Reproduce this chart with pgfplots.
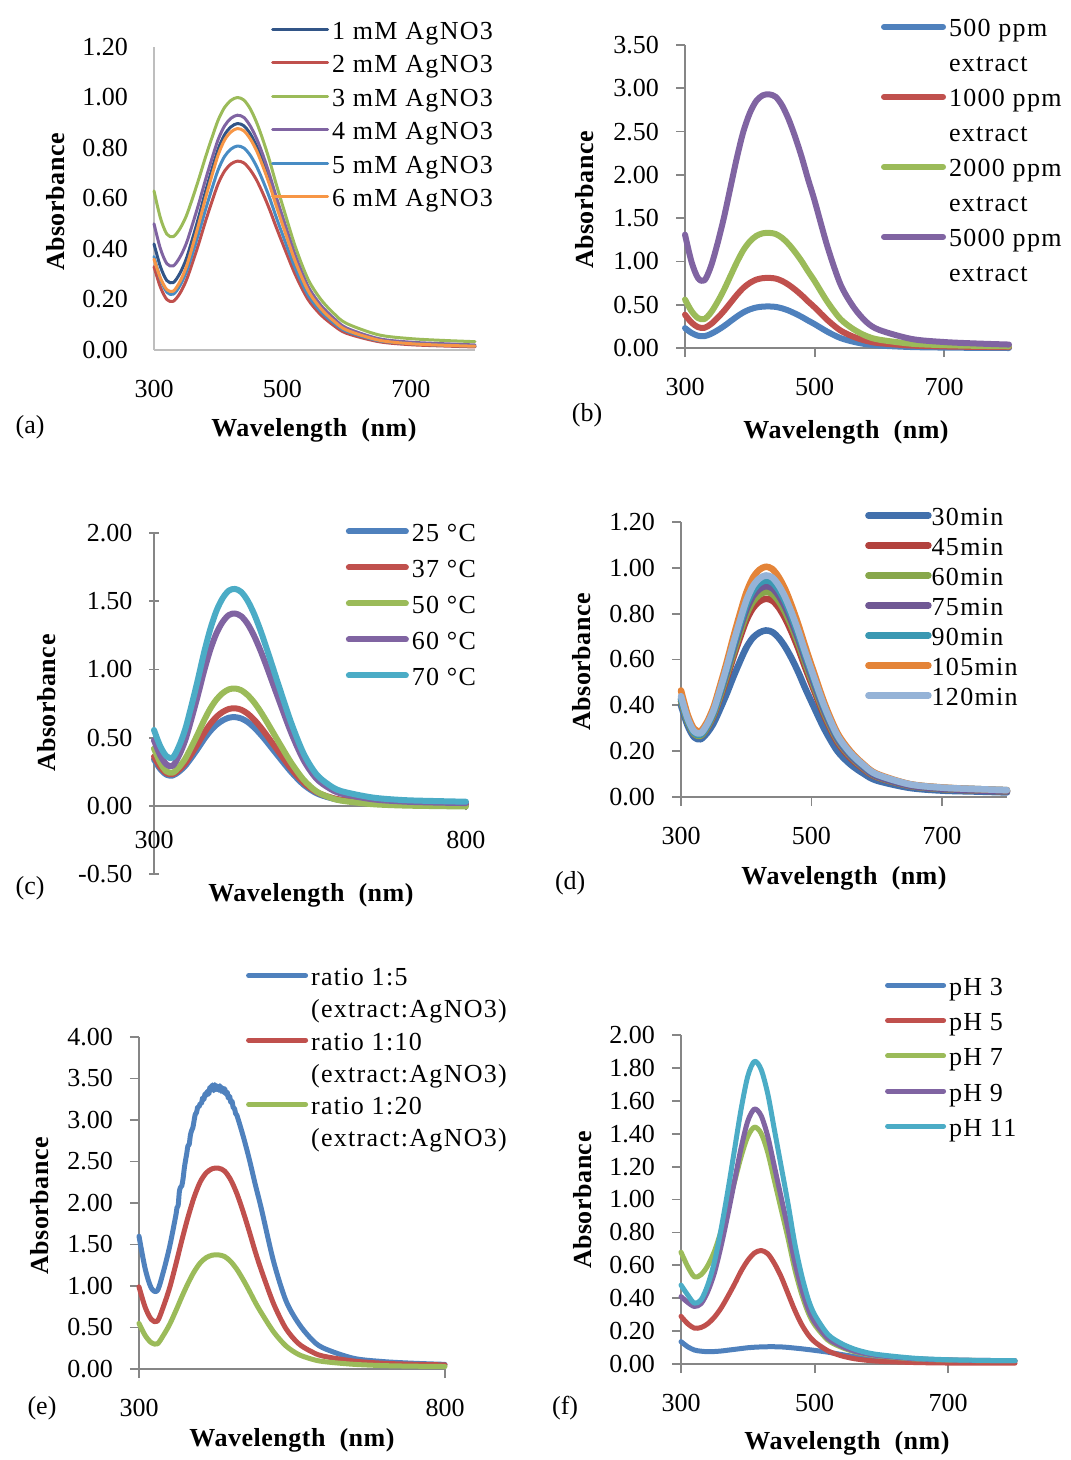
\documentclass[border=0pt]{standalone}
\usepackage{fontspec}
\setmainfont{Liberation Serif}
\newfontfamily\legfont{Liberation Serif}[LetterSpace=5]
\newfontfamily\labfont{Liberation Serif}[LetterSpace=2]
\usepackage{pgfplots}
\usepackage{pgfplotstable}
\pgfplotsset{compat=1.18}

\definecolor{xblue}{RGB}{79,129,189}
\definecolor{xred}{RGB}{192,80,77}
\definecolor{xgreen}{RGB}{155,187,89}
\definecolor{xpurple}{RGB}{128,100,162}
\definecolor{xcyan}{RGB}{75,172,198}
\definecolor{xorange}{RGB}{247,150,70}
\definecolor{xnavy}{RGB}{50,85,135}
\definecolor{xmblue}{RGB}{72,140,196}
\definecolor{xlblue}{RGB}{149,179,215}
\definecolor{dblue}{RGB}{66,112,172}
\definecolor{dred}{RGB}{178,66,62}
\definecolor{dgreen}{RGB}{135,167,75}
\definecolor{dpurple}{RGB}{112,88,148}
\definecolor{dteal}{RGB}{58,152,178}
\definecolor{dorange}{RGB}{228,132,56}
\definecolor{axgray}{RGB}{134,134,134}
\definecolor{axlight}{RGB}{190,190,190}

\pgfplotstableread{
x m1 m2 m3 m4 m5 m6
300 0.420 0.330 0.630 0.500 0.370 0.360
310 0.330 0.249 0.523 0.401 0.282 0.285
320 0.275 0.200 0.459 0.342 0.229 0.239
330 0.267 0.193 0.449 0.333 0.221 0.233
340 0.302 0.223 0.479 0.366 0.253 0.269
350 0.359 0.274 0.529 0.420 0.307 0.327
360 0.441 0.346 0.601 0.498 0.383 0.411
370 0.530 0.424 0.679 0.582 0.466 0.502
380 0.625 0.508 0.762 0.672 0.554 0.599
390 0.713 0.586 0.839 0.756 0.637 0.689
400 0.796 0.659 0.911 0.834 0.714 0.773
410 0.853 0.709 0.961 0.888 0.767 0.832
420 0.884 0.737 0.989 0.918 0.796 0.864
430 0.897 0.748 1.000 0.930 0.808 0.877
440 0.888 0.741 0.990 0.921 0.800 0.868
450 0.856 0.713 0.955 0.887 0.771 0.836
460 0.806 0.672 0.900 0.836 0.726 0.788
470 0.742 0.618 0.830 0.770 0.668 0.725
480 0.669 0.557 0.750 0.694 0.603 0.654
490 0.587 0.489 0.660 0.610 0.529 0.574
500 0.509 0.424 0.575 0.530 0.459 0.498
520 0.359 0.299 0.410 0.375 0.324 0.351
540 0.240 0.200 0.280 0.252 0.217 0.235
560 0.168 0.139 0.200 0.177 0.152 0.164
580 0.117 0.097 0.145 0.126 0.107 0.115
600 0.080 0.066 0.105 0.087 0.074 0.079
650 0.040 0.033 0.060 0.045 0.037 0.039
700 0.026 0.021 0.045 0.031 0.025 0.025
750 0.019 0.016 0.038 0.025 0.019 0.019
800 0.015 0.012 0.033 0.020 0.015 0.015
}\tabA

\pgfplotstableread{
x p500 p1000 p2000 p5000
300 0.230 0.385 0.560 1.310
310 0.175 0.295 0.427 0.997
320 0.142 0.241 0.346 0.808
330 0.137 0.233 0.335 0.781
340 0.163 0.276 0.410 0.943
350 0.204 0.346 0.530 1.202
360 0.252 0.427 0.670 1.504
370 0.308 0.520 0.830 1.850
380 0.363 0.613 0.990 2.196
390 0.411 0.694 1.130 2.498
400 0.446 0.752 1.230 2.714
410 0.468 0.790 1.295 2.854
420 0.478 0.807 1.325 2.919
430 0.480 0.810 1.330 2.930
440 0.475 0.802 1.317 2.901
450 0.458 0.774 1.271 2.800
460 0.432 0.730 1.199 2.641
470 0.398 0.674 1.107 2.439
480 0.360 0.610 1.003 2.208
490 0.317 0.538 0.885 1.947
500 0.276 0.470 0.773 1.702
520 0.187 0.322 0.531 1.167
540 0.115 0.202 0.334 0.734
560 0.072 0.130 0.217 0.474
580 0.043 0.082 0.138 0.300
600 0.028 0.056 0.096 0.208
650 0.011 0.028 0.049 0.104
700 0.005 0.018 0.033 0.069
750 0.002 0.013 0.025 0.052
800 0.000 0.010 0.020 0.040
}\tabB

\pgfplotstableread{
x c25 c37 c50 c60 c70
300 0.340 0.360 0.420 0.480 0.556
310 0.270 0.285 0.316 0.370 0.437
320 0.228 0.239 0.253 0.303 0.364
330 0.222 0.232 0.243 0.293 0.353
340 0.250 0.264 0.283 0.368 0.437
350 0.293 0.312 0.345 0.480 0.561
360 0.353 0.380 0.432 0.637 0.734
370 0.418 0.453 0.525 0.805 0.920
380 0.487 0.531 0.624 0.984 1.119
390 0.547 0.599 0.711 1.141 1.292
400 0.594 0.652 0.779 1.264 1.429
410 0.626 0.688 0.826 1.348 1.522
420 0.646 0.710 0.854 1.399 1.578
430 0.650 0.715 0.860 1.410 1.590
440 0.640 0.704 0.847 1.389 1.567
450 0.615 0.676 0.812 1.334 1.504
460 0.576 0.634 0.761 1.250 1.411
470 0.528 0.581 0.696 1.146 1.294
480 0.474 0.521 0.622 1.028 1.161
490 0.416 0.458 0.544 0.903 1.021
500 0.359 0.394 0.466 0.778 0.880
520 0.247 0.271 0.315 0.534 0.607
540 0.154 0.169 0.190 0.333 0.381
560 0.093 0.102 0.107 0.201 0.233
580 0.061 0.066 0.064 0.131 0.155
600 0.042 0.045 0.038 0.090 0.108
650 0.023 0.024 0.012 0.048 0.061
700 0.015 0.015 0.002 0.031 0.042
750 0.012 0.012 -0.002 0.024 0.035
800 0.010 0.010 -0.005 0.020 0.030
}\tabC

\pgfplotstableread{
x t30 t45 t60 t75 t90 t105 t120
300 0.400 0.420 0.420 0.430 0.430 0.465 0.440
310 0.313 0.330 0.330 0.337 0.337 0.361 0.344
320 0.261 0.276 0.276 0.281 0.281 0.298 0.287
330 0.252 0.267 0.267 0.272 0.272 0.288 0.278
340 0.279 0.301 0.303 0.309 0.311 0.328 0.317
350 0.322 0.355 0.360 0.368 0.371 0.393 0.379
360 0.384 0.433 0.441 0.452 0.459 0.487 0.469
370 0.450 0.517 0.530 0.543 0.554 0.587 0.566
380 0.522 0.607 0.624 0.641 0.655 0.695 0.669
390 0.589 0.691 0.712 0.732 0.749 0.796 0.766
400 0.651 0.769 0.794 0.816 0.837 0.890 0.856
410 0.694 0.823 0.851 0.875 0.898 0.955 0.919
420 0.717 0.853 0.882 0.907 0.932 0.991 0.953
430 0.727 0.865 0.895 0.920 0.945 1.005 0.967
440 0.720 0.857 0.886 0.911 0.936 0.995 0.958
450 0.694 0.826 0.854 0.878 0.902 0.959 0.923
460 0.654 0.778 0.805 0.828 0.851 0.905 0.870
470 0.603 0.717 0.742 0.762 0.784 0.833 0.802
480 0.544 0.647 0.670 0.688 0.708 0.752 0.724
490 0.478 0.569 0.589 0.605 0.623 0.662 0.637
500 0.416 0.495 0.512 0.526 0.542 0.576 0.555
520 0.296 0.353 0.364 0.374 0.387 0.410 0.395
540 0.200 0.239 0.247 0.253 0.263 0.279 0.269
560 0.142 0.170 0.176 0.180 0.188 0.199 0.192
580 0.102 0.122 0.126 0.129 0.136 0.143 0.139
600 0.072 0.087 0.089 0.091 0.098 0.102 0.099
650 0.040 0.049 0.049 0.050 0.056 0.057 0.056
700 0.028 0.035 0.035 0.036 0.041 0.042 0.041
750 0.024 0.029 0.029 0.029 0.035 0.035 0.035
800 0.020 0.025 0.025 0.025 0.030 0.030 0.030
}\tabD

\pgfplotstableread{
x r10 r20
300 0.990 0.550
310 0.746 0.405
320 0.599 0.318
330 0.576 0.303
340 0.755 0.408
350 0.977 0.537
360 1.255 0.698
370 1.551 0.870
380 1.828 1.031
390 2.069 1.171
400 2.254 1.278
410 2.365 1.343
420 2.414 1.372
430 2.420 1.375
440 2.384 1.355
450 2.278 1.294
460 2.112 1.200
470 1.899 1.079
480 1.662 0.945
490 1.413 0.803
500 1.188 0.676
520 0.785 0.447
540 0.488 0.279
560 0.311 0.178
580 0.216 0.124
600 0.157 0.091
650 0.097 0.057
700 0.069 0.041
750 0.057 0.034
800 0.050 0.030
}\tabE

\pgfplotstableread{
x r5
300 1.600
310 1.211
320 0.977
330 0.945
340 1.177
350 1.473
360 1.844
362 1.943
364 1.972
366 2.141
368 2.190
370 2.209
372 2.293
374 2.417
376 2.512
378 2.596
380 2.690
382 2.704
384 2.818
386 2.873
388 2.907
390 2.991
392 3.070
394 3.090
396 3.159
398 3.159
400 3.198
402 3.198
404 3.267
406 3.247
408 3.316
410 3.296
412 3.349
414 3.313
416 3.396
418 3.360
420 3.423
422 3.354
424 3.426
426 3.367
428 3.409
430 3.360
432 3.413
434 3.347
436 3.390
438 3.334
440 3.377
442 3.312
444 3.337
446 3.263
448 3.288
450 3.213
452 3.226
454 3.148
456 3.141
458 3.073
460 3.056
470 2.811
480 2.534
490 2.223
500 1.929
520 1.293
540 0.825
560 0.558
580 0.374
600 0.257
650 0.130
700 0.089
750 0.069
800 0.056
}\tabEb

\pgfplotstableread{
x h3 h5 h7 h9 h11
300 0.136 0.290 0.680 0.410 0.480
310 0.105 0.245 0.593 0.375 0.420
320 0.085 0.218 0.530 0.350 0.370
330 0.078 0.222 0.543 0.367 0.390
340 0.075 0.245 0.598 0.440 0.480
350 0.076 0.285 0.685 0.554 0.620
360 0.079 0.340 0.808 0.717 0.820
370 0.084 0.410 0.951 0.906 1.050
380 0.089 0.485 1.106 1.110 1.300
390 0.094 0.565 1.261 1.314 1.550
400 0.099 0.630 1.384 1.477 1.750
410 0.102 0.675 1.440 1.550 1.840
420 0.104 0.690 1.402 1.509 1.790
430 0.105 0.670 1.284 1.382 1.640
440 0.105 0.610 1.112 1.197 1.420
450 0.104 0.530 0.940 1.011 1.200
460 0.101 0.430 0.768 0.826 0.980
470 0.097 0.330 0.582 0.626 0.740
480 0.093 0.245 0.433 0.465 0.550
490 0.088 0.180 0.317 0.340 0.400
500 0.083 0.135 0.239 0.256 0.300
520 0.072 0.080 0.145 0.155 0.180
540 0.058 0.050 0.102 0.109 0.125
560 0.045 0.032 0.074 0.078 0.090
580 0.035 0.022 0.057 0.060 0.068
600 0.028 0.016 0.047 0.049 0.055
650 0.021 0.009 0.031 0.032 0.035
700 0.018 0.006 0.024 0.025 0.026
750 0.017 0.005 0.021 0.022 0.022
800 0.016 0.005 0.020 0.020 0.020
}\tabF

\newcommand{\fs}{\fontsize{26pt}{30pt}\selectfont}

\pgfplotsset{
  legline/.style={legend image code/.code={\draw[##1] (0pt,4pt) -- (#1,4pt);}},
  panel/.style={
    scale only axis, clip=false,
    xmin=300, xmax=800,
    axis x line*=bottom, axis y line*=left,
    axis line style={draw=axgray, line width=1.8pt, -},
    tick style={draw=axgray, line width=1.8pt},
    tick align=outside, major tick length=9pt, minor tick num=0,
    xtick={300,500,700}, xticklabels={300,500,700},
    tick label style={font=\fs, inner sep=0pt},
    xticklabel style={anchor=center, yshift=-30pt},
    yticklabel style={anchor=east, xshift=-17pt},
    label style={font=\labfont\fs\bfseries},
    ylabel={Absorbance},
    xlabel={Wavelength\ \ (nm)},
    legend cell align=left,
    legline=57pt,
    legend style={draw=none, fill=none, inner sep=0pt, outer sep=0pt, font=\legfont\fs,
      anchor=north west,
      nodes={inner sep=0pt, text height=18pt, text depth=6pt},
      /tikz/every odd column/.append style={column sep=3pt}},
    every axis plot/.append style={smooth, no marks, line cap=round, line join=round},
  },
}

\begin{document}
\begin{tikzpicture}
\path[use as bounding box] (0pt,0pt) rectangle (1071pt,-1460pt);

% ---------------- (a)
\begin{axis}[panel, at={(154pt,-350pt)}, anchor=south west, width=321pt, height=303pt,
  ymin=0, ymax=1.2, ytick={0,0.2,0.4,0.6,0.8,1.0,1.2},
  yticklabels={0.00,0.20,0.40,0.60,0.80,1.00,1.20},
  axis line style={draw=axlight, line width=1.6pt}, tick style={draw=none},
  ylabel style={at={(axis description cs:-0.308,0.488)}, anchor=center},
  xlabel style={at={(axis description cs:0.498,-0.264)}, anchor=center},
  legline=55pt,
  legend style={at={(axis description cs:0.365,1.085)}, row sep=9.5pt},
]
\addplot[xnavy, line width=3pt] table[x=x,y=m1]{\tabA}; \addlegendentry{1 mM AgNO3}
\addplot[xred, line width=3pt] table[x=x,y=m2]{\tabA}; \addlegendentry{2 mM AgNO3}
\addplot[xgreen, line width=3pt] table[x=x,y=m3]{\tabA}; \addlegendentry{3 mM AgNO3}
\addplot[xpurple, line width=3pt] table[x=x,y=m4]{\tabA}; \addlegendentry{4 mM AgNO3}
\addplot[xmblue, line width=3pt] table[x=x,y=m5]{\tabA}; \addlegendentry{5 mM AgNO3}
\addplot[xorange, line width=3pt] table[x=x,y=m6]{\tabA}; \addlegendentry{6 mM AgNO3}
\node[font=\fs] at (axis description cs:-0.386,-0.254) {(a)};
\end{axis}

% ---------------- (b)
\begin{axis}[panel, at={(685pt,-348pt)}, anchor=south west, width=324pt, height=303pt,
  ymin=0, ymax=3.5, ytick={0,0.5,1.0,1.5,2.0,2.5,3.0,3.5},
  yticklabels={0.00,0.50,1.00,1.50,2.00,2.50,3.00,3.50},
  ylabel style={at={(axis description cs:-0.309,0.488)}, anchor=center},
  xlabel style={at={(axis description cs:0.497,-0.277)}, anchor=center},
  legline=59pt,
  legend style={at={(axis description cs:0.605,1.086)}, row sep=11pt},
]
\addplot[xblue, line width=6pt] table[x=x,y=p500]{\tabB}; \addlegendentry{500 ppm}
\addlegendimage{empty legend} \addlegendentry{extract}
\addplot[xred, line width=6pt] table[x=x,y=p1000]{\tabB}; \addlegendentry{1000 ppm}
\addlegendimage{empty legend} \addlegendentry{extract}
\addplot[xgreen, line width=6pt] table[x=x,y=p2000]{\tabB}; \addlegendentry{2000 ppm}
\addlegendimage{empty legend} \addlegendentry{extract}
\addplot[xpurple, line width=6pt] table[x=x,y=p5000]{\tabB}; \addlegendentry{5000 ppm}
\addlegendimage{empty legend} \addlegendentry{extract}
\node[font=\fs] at (axis description cs:-0.302,-0.221) {(b)};
\end{axis}

% ---------------- (c)
\begin{axis}[panel, at={(154pt,-874pt)}, anchor=south west, width=312pt, height=341pt,
  axis x line=middle, axis y line=left, hide obscured x ticks=false,
  axis line style={-}, every inner x axis line/.append style={-}, every outer y axis line/.append style={-},
  ymin=-0.5, ymax=2, ytick={-0.5,0,0.5,1.0,1.5,2.0},
  yticklabels={-0.50,0.00,0.50,1.00,1.50,2.00},
  xtick={300,800}, xticklabels={300,800},
  ylabel style={at={(axis description cs:-0.343,0.501)}, anchor=center, font=\labfont\fs\bfseries},
  xlabel style={at={(axis description cs:0.503,-0.062)}, anchor=center, font=\labfont\fs\bfseries},
  legline=57pt,
  legend style={at={(axis description cs:0.615,1.028)}, row sep=12pt},
]
\addplot[xblue, line width=6pt] table[x=x,y=c25]{\tabC}; \addlegendentry{25 °C}
\addplot[xred, line width=6pt] table[x=x,y=c37]{\tabC}; \addlegendentry{37 °C}
\addplot[xgreen, line width=6pt] table[x=x,y=c50]{\tabC}; \addlegendentry{50 °C}
\addplot[xpurple, line width=6pt] table[x=x,y=c60]{\tabC}; \addlegendentry{60 °C}
\addplot[xcyan, line width=6pt] table[x=x,y=c70]{\tabC}; \addlegendentry{70 °C}
\node[font=\fs] at (axis description cs:-0.397,-0.041) {(c)};
\end{axis}

% ---------------- (d)
\begin{axis}[panel, at={(681pt,-797pt)}, anchor=south west, width=326pt, height=275pt,
  ymin=0, ymax=1.2, ytick={0,0.2,0.4,0.6,0.8,1.0,1.2},
  yticklabels={0.00,0.20,0.40,0.60,0.80,1.00,1.20},
  ylabel style={at={(axis description cs:-0.304,0.491)}, anchor=center},
  xlabel style={at={(axis description cs:0.5,-0.295)}, anchor=center},
  legline=60pt,
  legend style={at={(axis description cs:0.565,1.053)}, row sep=6pt,
    /tikz/every odd column/.append style={column sep=0pt}},
]
\addplot[dblue, line width=6.5pt] table[x=x,y=t30]{\tabD}; \addlegendentry{30min}
\addplot[dred, line width=6.5pt] table[x=x,y=t45]{\tabD}; \addlegendentry{45min}
\addplot[dgreen, line width=6.5pt] table[x=x,y=t60]{\tabD}; \addlegendentry{60min}
\addplot[dpurple, line width=6.5pt] table[x=x,y=t75]{\tabD}; \addlegendentry{75min}
\addplot[dteal, line width=6.5pt] table[x=x,y=t90]{\tabD}; \addlegendentry{90min}
\addplot[dorange, line width=6.5pt] table[x=x,y=t105]{\tabD}; \addlegendentry{105min}
\addplot[xlblue, line width=6.5pt] table[x=x,y=t120]{\tabD}; \addlegendentry{120min}
\node[font=\fs] at (axis description cs:-0.340,-0.313) {(d)};
\end{axis}

% ---------------- (e)
\begin{axis}[panel, at={(139pt,-1369pt)}, anchor=south west, width=306pt, height=332pt,
  ymin=0, ymax=4, ytick={0,0.5,1.0,1.5,2.0,2.5,3.0,3.5,4.0},
  yticklabels={0.00,0.50,1.00,1.50,2.00,2.50,3.00,3.50,4.00},
  xtick={300,800}, xticklabels={300,800},
  ylabel style={at={(axis description cs:-0.324,0.491)}, anchor=center},
  xlabel style={at={(axis description cs:0.5,-0.214)}, anchor=center},
  legline=57pt,
  legend style={at={(axis description cs:0.350,1.209)}, row sep=8.2pt},
]
\addplot[xblue, line width=5pt] table[x=x,y=r5]{\tabEb}; \addlegendentry{ratio 1:5}
\addlegendimage{empty legend} \addlegendentry{(extract:AgNO3)}
\addplot[xred, line width=5pt] table[x=x,y=r10]{\tabE}; \addlegendentry{ratio 1:10}
\addlegendimage{empty legend} \addlegendentry{(extract:AgNO3)}
\addplot[xgreen, line width=5pt] table[x=x,y=r20]{\tabE}; \addlegendentry{ratio 1:20}
\addlegendimage{empty legend} \addlegendentry{(extract:AgNO3)}
\node[font=\fs] at (axis description cs:-0.317,-0.117) {(e)};
\end{axis}

% ---------------- (f)
\begin{axis}[panel, at={(681pt,-1364pt)}, anchor=south west, width=334pt, height=329pt,
  ymin=0, ymax=2, ytick={0,0.2,0.4,0.6,0.8,1.0,1.2,1.4,1.6,1.8,2.0},
  yticklabels={0.00,0.20,0.40,0.60,0.80,1.00,1.20,1.40,1.60,1.80,2.00},
  ylabel style={at={(axis description cs:-0.296,0.498)}, anchor=center},
  xlabel style={at={(axis description cs:0.497,-0.240)}, anchor=center},
  legline=56pt,
  legend style={at={(axis description cs:0.611,1.175)}, row sep=11.2pt},
]
\addplot[xblue, line width=5pt] table[x=x,y=h3]{\tabF}; \addlegendentry{pH 3}
\addplot[xred, line width=5pt] table[x=x,y=h5]{\tabF}; \addlegendentry{pH 5}
\addplot[xgreen, line width=5pt] table[x=x,y=h7]{\tabF}; \addlegendentry{pH 7}
\addplot[xpurple, line width=5pt] table[x=x,y=h9]{\tabF}; \addlegendentry{pH 9}
\addplot[xcyan, line width=5pt] table[x=x,y=h11]{\tabF}; \addlegendentry{pH 11}
\node[font=\fs] at (axis description cs:-0.347,-0.134) {(f)};
\end{axis}
\end{tikzpicture}
\end{document}
